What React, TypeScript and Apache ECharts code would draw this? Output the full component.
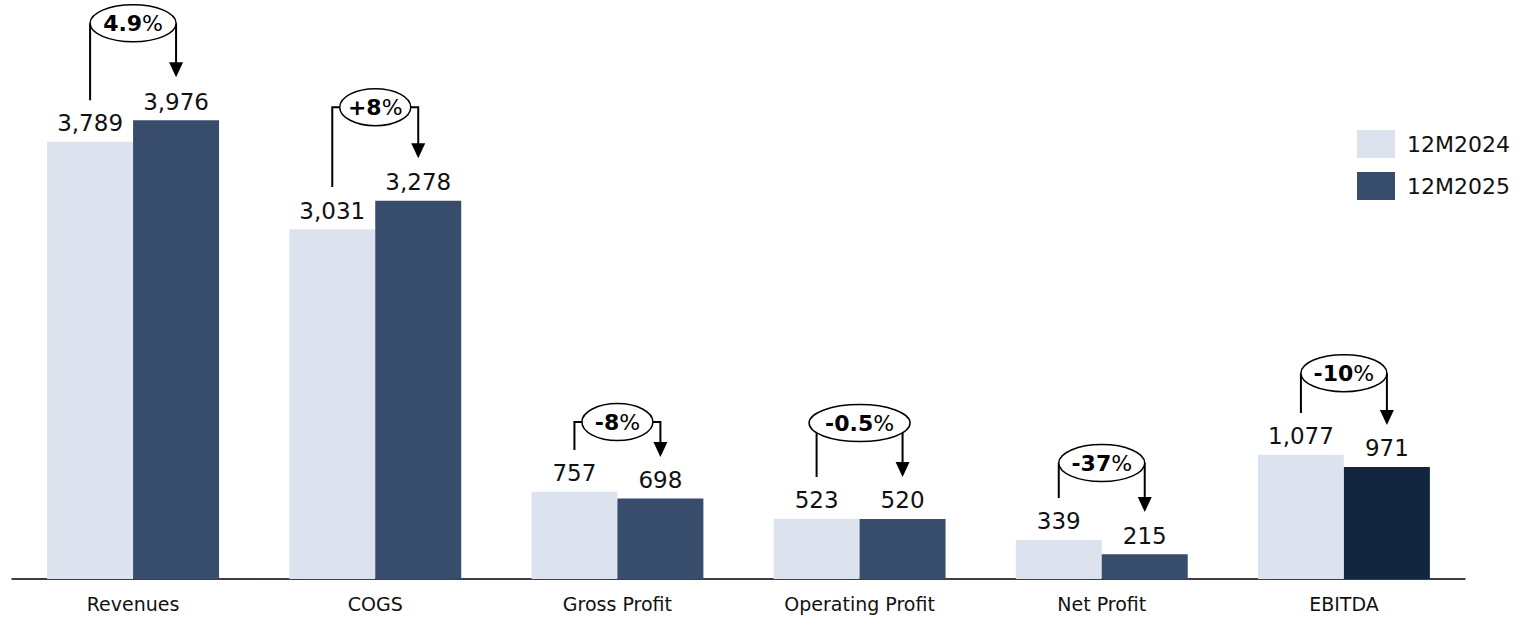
import React, { useEffect, useRef } from "react";
import * as echarts from "echarts";

const categories = ["Revenues", "COGS", "Gross Profit", "Operating Profit", "Net Profit", "EBITDA"];
const fy2024 = [3789, 3031, 757, 523, 339, 1077];
const fy2025 = [3976, 3278, 698, 520, 215, 971];
const changeLabels = ["4.9%", "+8%", "-8%", "-0.5%", "-37%", "-10%"];
// annotation levels, in data units
const bubbleLevel = [4816, 4089, 1360, 1351, 1005, 1784];
const leftEnd = [4149, 3396, 1117, 884, 702, 1438];
const arrowTip = [4349, 3647, 1057, 884, 580, 1334];

const LIGHT = "#DDE3EE";
const DARK = "#384C6B";
const DARKEST = "#12273F";
const FONT = "DejaVu Sans";

export default function App() {
  const ref = useRef<HTMLDivElement>(null);
  useEffect(() => {
    if (!ref.current) return;
    const chart = echarts.init(ref.current, null, { renderer: "svg" });
    const annData = categories.map((_, i) => [i, bubbleLevel[i], leftEnd[i], arrowTip[i]]);
    const valueLabel = {
      show: true,
      position: "top",
      distance: 7,
      fontFamily: FONT,
      fontSize: 23,
      color: "#111",
      formatter: (p: any) => Number(p.value).toLocaleString("en-US"),
    };
    const option: any = {
      animation: false,
      backgroundColor: "#fff",
      textStyle: { fontFamily: FONT },
      grid: { left: 12, right: 61, top: 2, bottom: 39 },
      legend: {
        orient: "vertical",
        left: 1352,
        top: 125,
        itemWidth: 38,
        itemHeight: 28,
        itemGap: 14,
        icon: "rect",
        data: ["12M2024", "12M2025"],
        textStyle: { fontFamily: FONT, fontSize: 22, color: "#111", padding: [0, 0, 0, 7] },
      },
      xAxis: {
        type: "category",
        data: categories,
        axisLine: { lineStyle: { color: "#000", width: 1.5 } },
        axisTick: { show: false },
        axisLabel: { fontFamily: FONT, fontSize: 19, color: "#111", margin: 15 },
      },
      yAxis: {
        type: "value",
        min: 0,
        max: 5000,
        show: false,
        splitLine: { show: false },
      },
      series: [
        {
          name: "12M2024",
          type: "bar",
          data: fy2024,
          barGap: "0%",
          barCategoryGap: "29%",
          itemStyle: { color: LIGHT },
          label: valueLabel,
        },
        {
          name: "12M2025",
          type: "bar",
          data: fy2025.map((v, i) =>
            i === fy2025.length - 1 ? { value: v, itemStyle: { color: DARKEST } } : v
          ),
          itemStyle: { color: DARK },
          label: valueLabel,
        },
        {
          type: "custom",
          silent: true,
          z: 10,
          data: annData,
          renderItem: (params: any, api: any) => {
            const idx = params.dataIndex;
            const c = api.coord([api.value(0), api.value(1)]);
            const cx = c[0];
            const cy = c[1];
            const band = api.size([1, 0])[0];
            const barW = (band * (1 - 0.29)) / 2;
            const xL = cx - barW / 2;
            const xR = cx + barW / 2;
            const yL = api.coord([api.value(0), api.value(2)])[1];
            const yT = api.coord([api.value(0), api.value(3)])[1];
            const label = changeLabels[idx];
            const rx = 13 + 7.5 * label.length;
            const ry = 18.5;
            const num = label.replace("%", "");
            const stroke = { stroke: "#000", lineWidth: 2, fill: "none" };
            return {
              type: "group",
              children: [
                {
                  type: "polyline",
                  shape: { points: [[xL, yL], [xL, cy], [cx - rx, cy]] },
                  style: stroke,
                },
                {
                  type: "polyline",
                  shape: { points: [[cx + rx, cy], [xR, cy], [xR, yT - 14]] },
                  style: stroke,
                },
                {
                  type: "polygon",
                  shape: { points: [[xR - 7, yT - 15], [xR + 7, yT - 15], [xR, yT]] },
                  style: { fill: "#000" },
                },
                {
                  type: "ellipse",
                  shape: { cx, cy, rx, ry },
                  style: { fill: "#fff", stroke: "#000", lineWidth: 1.5 },
                },
                {
                  type: "text",
                  x: cx,
                  y: cy,
                  style: {
                    text: "{b|" + num + "}{n|%}",
                    align: "center",
                    verticalAlign: "middle",
                    rich: {
                      b: { fontFamily: FONT, fontSize: 22, fontWeight: "bold", fill: "#000" },
                      n: { fontFamily: FONT, fontSize: 22, fill: "#000" },
                    },
                  },
                },
              ],
            };
          },
        },
      ],
    };
    chart.setOption(option);
    return () => chart.dispose();
  }, []);
  return (
    <div
      ref={ref}
      style={{ position: "fixed", left: 0, top: 0, width: 1526, height: 618, background: "#fff" }}
    />
  );
}
